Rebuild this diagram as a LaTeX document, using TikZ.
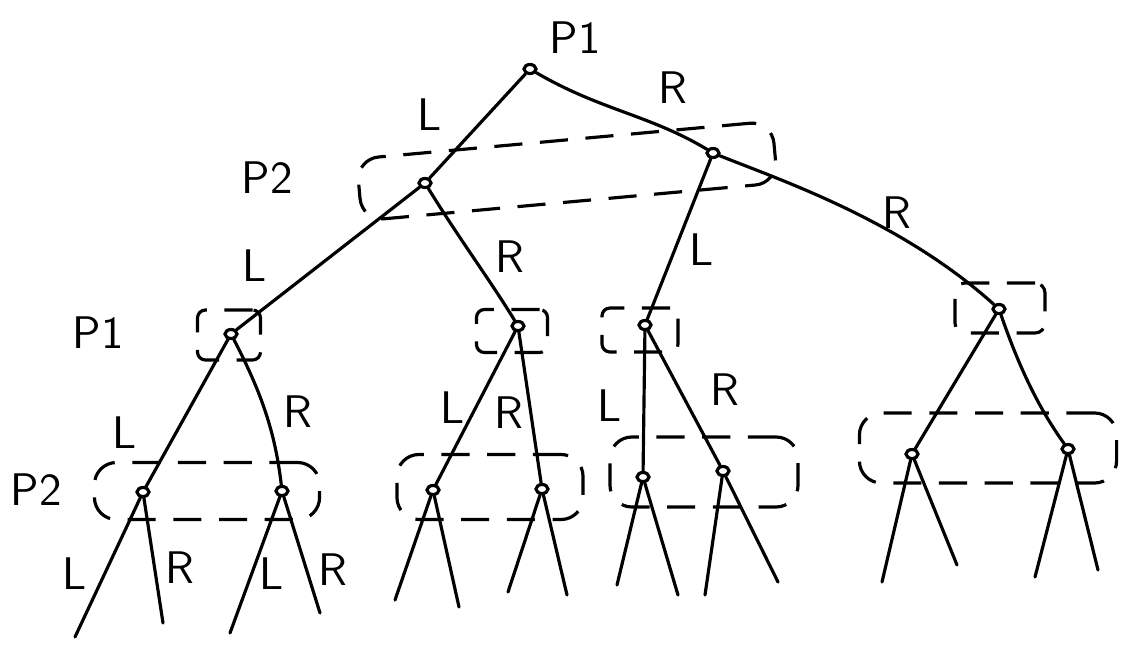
\documentclass[tikz,border=0pt]{standalone}
\usetikzlibrary{shapes.geometric}
\begin{document}
\begin{tikzpicture}[x=0.01cm,y=-0.01cm,
  dec/.style={draw,ellipse,inner sep=0pt,minimum width=0.12cm,minimum height=0.09cm,line width=0.9pt,fill=white},
  edg/.style={line width=0.9pt,line cap=round},
  iset/.style={draw,line width=0.9pt,dash pattern=on 8pt off 5pt,rounded corners=0.22cm,inner sep=0pt},
  lab/.style={font=\sffamily\fontsize{13}{15}\selectfont,inner sep=0pt}
]
\useasboundingbox (0,0) rectangle (1121,648);
% decision nodes
\node[dec] (r) at (530,69) {};
\node[dec] (a) at (425,183) {};
\node[dec] (b) at (713,153) {};
\node[dec] (a1) at (231,334) {};
\node[dec] (a2) at (518,326) {};
\node[dec] (a3) at (645,325) {};
\node[dec] (a4) at (999,309) {};
\node[dec] (b1) at (143,492) {};
\node[dec] (b2) at (282,491) {};
\node[dec] (b3) at (433,490) {};
\node[dec] (b4) at (542,489) {};
\node[dec] (b5) at (643,477) {};
\node[dec] (b6) at (723,471) {};
\node[dec] (b7) at (912,454) {};
\node[dec] (b8) at (1068,449) {};
% leaf ends
\coordinate (l1) at (75,637);  \coordinate (l2) at (163,623);
\coordinate (l3) at (230,633); \coordinate (l4) at (320,613);
\coordinate (l5) at (395,600); \coordinate (l6) at (459,607);
\coordinate (l7) at (508,592); \coordinate (l8) at (567,595);
\coordinate (l9) at (617,585); \coordinate (l10) at (678,595);
\coordinate (l11) at (705,595); \coordinate (l12) at (778,582);
\coordinate (l13) at (882,582); \coordinate (l14) at (957,565);
\coordinate (l15) at (1035,577); \coordinate (l16) at (1098,570);
% information sets
\node[iset,minimum width=4.17cm,minimum height=0.62cm,rotate=5.2] (i1) at (567,171) {};
\node[iset,minimum width=0.63cm,minimum height=0.50cm,rounded corners=0.08cm] (s1) at (229,335) {};
\node[iset,minimum width=0.71cm,minimum height=0.43cm,rounded corners=0.08cm] (s2) at (512,331) {};
\node[iset,minimum width=0.76cm,minimum height=0.44cm,rounded corners=0.08cm] (s3) at (640,330) {};
\node[iset,minimum width=0.90cm,minimum height=0.50cm,rounded corners=0.1cm] (s4) at (1000,308) {};
\node[iset,minimum width=2.25cm,minimum height=0.57cm] (i2) at (207,491) {};
\node[iset,minimum width=1.86cm,minimum height=0.65cm] (i3) at (490,487) {};
\node[iset,minimum width=1.88cm,minimum height=0.70cm] (i4) at (704,472) {};
\node[iset,minimum width=2.57cm,minimum height=0.70cm] (i5) at (988,448) {};
% edges
\draw[edg] (r) -- (a);
\draw[edg] (r) .. controls (600,110) and (650,115) .. (b);
\draw[edg] (a) -- (a1);
\draw[edg] (a) .. controls (460,240) and (490,280) .. (a2);
\draw[edg] (b) -- (a3);
\draw[edg] (b) .. controls (780,180) and (900,220) .. (a4);
\draw[edg] (a1) -- (b1);
\draw[edg] (a1) .. controls (260,390) and (275,430) .. (b2);
\draw[edg] (a2) -- (b3);
\draw[edg] (a2) -- (b4);
\draw[edg] (a3) -- (b5);
\draw[edg] (a3) -- (b6);
\draw[edg] (a4) -- (b7);
\draw[edg] (a4) .. controls (1020,370) and (1040,410) .. (b8);
\foreach \n/\p/\q in {b1/l1/l2,b2/l3/l4,b3/l5/l6,b4/l7/l8,b5/l9/l10,b6/l11/l12,b7/l13/l14,b8/l15/l16}{
  \draw[edg] (\n) -- (\p);
  \draw[edg] (\n) -- (\q);
}
% player labels
\node[lab] (t1) at (575,38) {P1};
\node[lab] (t2) at (267,178) {P2};
\node[lab] (t3) at (98,333) {P1};
\node[lab] (t4) at (36,490) {P2};
% action labels
\node[lab] (e1) at (430,115) {L};
\node[lab] (e2) at (673,88) {R};
\node[lab] (e3) at (255,266) {L};
\node[lab] (e4) at (510,257) {R};
\node[lab] (e5) at (702,250) {L};
\node[lab] (e6) at (897,213) {R};
\node[lab] (e7) at (125,433) {L};
\node[lab] (e8) at (298,412) {R};
\node[lab] (e9) at (453,408) {L};
\node[lab] (e10) at (509,413) {R};
\node[lab] (e11) at (610,406) {L};
\node[lab] (e12) at (725,390) {R};
\node[lab] (e13) at (75,574) {L};
\node[lab] (e14) at (180,568) {R};
\node[lab] (e15) at (272,574) {L};
\node[lab] (e16) at (333,570) {R};
\end{tikzpicture}
\end{document}
